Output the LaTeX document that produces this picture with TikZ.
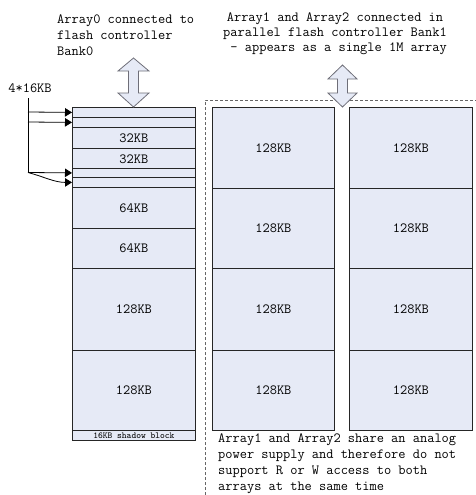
\documentclass[tikz,border=0pt]{standalone}
\usepackage{fontspec}
\usetikzlibrary{arrows.meta}
\definecolor{cellfill}{RGB}{230,234,246}
\definecolor{arrowedge}{RGB}{110,110,120}
\begin{document}
\begin{tikzpicture}[x=1pt,y=-1pt,
  cell/.style={draw=black!85, line width=0.8pt, fill=cellfill, inner sep=0pt, anchor=north west,
    font=\ttfamily\fontsize{14}{16}\selectfont},
  lcell/.style={cell, minimum width=123pt},
  rcellA/.style={cell, minimum width=122pt},
  rcellB/.style={cell, minimum width=123pt},
  txt/.style={inner sep=0pt, font=\ttfamily\fontsize{14}{16}\selectfont},
  bigarrow/.style={draw=arrowedge, fill=cellfill, line width=0.8pt, line join=miter},
  tip/.style={-{Triangle[length=7pt,width=8.5pt]}, line width=0.8pt, black}
]
\useasboundingbox (0,0) rectangle (476,495);

% left column (Array0)
\node[lcell, minimum height=10pt] (L1) at (72,107) {};
\node[lcell, minimum height=10pt] (L2) at (72,117) {};
\node[lcell, minimum height=21pt] (L3) at (72,127) {32KB};
\node[lcell, minimum height=21pt] (L4) at (72,148) {32KB};
\node[lcell, minimum height=9pt]  (L5) at (72,168) {};
\node[lcell, minimum height=10pt] (L6) at (72,177) {};
\node[lcell, minimum height=41pt] (L7) at (72,187) {64KB};
\node[lcell, minimum height=40pt] (L8) at (72,228) {64KB};
\node[lcell, minimum height=82pt] (L9) at (72,268) {128KB};
\node[lcell, minimum height=80pt] (L10) at (72,350) {128KB};
\node[lcell, minimum height=10pt, font=\ttfamily\fontsize{9.1}{10}\selectfont] (L11) at (72,430) {16KB shadow block};

% right columns (Array1, Array2)
\node[rcellA, minimum height=81pt] (A1) at (212,107) {128KB};
\node[rcellA, minimum height=80pt] (A2) at (212,188) {128KB};
\node[rcellA, minimum height=82pt] (A3) at (212,268) {128KB};
\node[rcellA, minimum height=80pt] (A4) at (212,350) {128KB};
\node[rcellB, minimum height=81pt] (B1) at (349,107) {128KB};
\node[rcellB, minimum height=80pt] (B2) at (349,188) {128KB};
\node[rcellB, minimum height=82pt] (B3) at (349,268) {128KB};
\node[rcellB, minimum height=80pt] (B4) at (349,350) {128KB};

% dashed enclosure
\draw[dashed, dash pattern=on 3pt off 2pt, gray!80!black, line width=0.7pt]
  (205,495) -- (205,100) -- (476,100);

% double arrows
\draw[bigarrow] (133.5,58) -- (149,71) -- (138.5,71) -- (138.5,93) -- (149,93) -- (133.5,107)
  -- (118,93) -- (128.5,93) -- (128.5,71) -- (118,71) -- cycle;
\draw[bigarrow] (342.5,65) -- (357,79) -- (347.5,79) -- (347.5,93) -- (357,93) -- (342.5,107)
  -- (328,93) -- (337.5,93) -- (337.5,79) -- (328,79) -- cycle;

% texts
\node[txt, align=left, anchor=north west] (T0) at (57,15)
  {Array0 connected to\\flash controller\\Bank0};
\node[txt, align=center, anchor=north, font=\ttfamily\fontsize{14}{15}\selectfont] (T1) at (335,13)
  {Array1 and Array2 connected in\\parallel flash controller Bank1\\\ - appears as a single 1M array};
\node[txt, align=left, anchor=north west, font=\ttfamily\fontsize{14}{16}\selectfont] (T2) at (218,434)
  {Array1 and Array2 share an analog\\power supply and therefore do not\\support R or W access to both\\arrays at the same time};
\node[txt] (K) at (30,88) {4*16KB};

% bracket
\coordinate (bt) at (28,98);
\coordinate (b1) at (28,112);
\coordinate (b2) at (28,122);
\coordinate (b5) at (28,172.5);
\draw[line width=0.8pt] (bt) -- (b5);
\draw[tip] (b1) -- (L1.west);
\draw[tip] (b2) -- (L2.west);
\draw[tip] (b5) -- (L5.west);
\draw[tip] (b5) to[out=-15,in=180] (L6.west);
\end{tikzpicture}
\end{document}
